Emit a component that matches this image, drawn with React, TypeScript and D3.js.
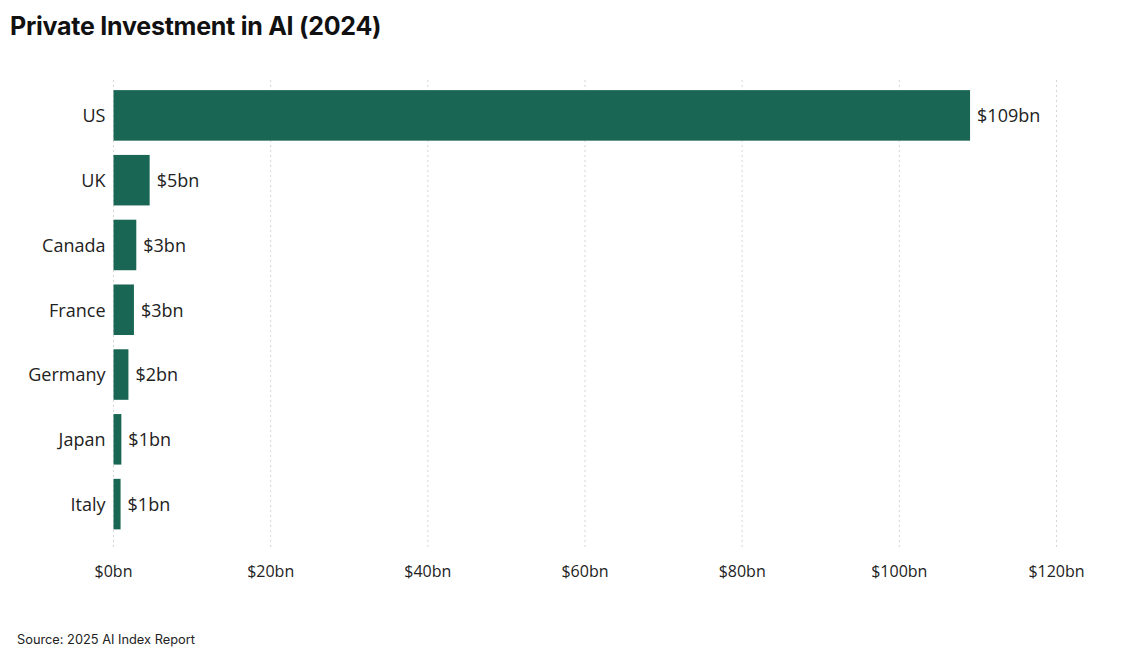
import React from "react";
import * as d3 from "d3";

const countries = ["US", "UK", "Canada", "France", "Germany", "Japan", "Italy"];
const investment = [109, 4.6, 2.9, 2.6, 1.9, 1.0, 0.9];
const valueLabels = ["$109bn", "$5bn", "$3bn", "$3bn", "$2bn", "$1bn", "$1bn"];
const xTicks = [0, 20, 40, 60, 80, 100, 120];

const W = 1148;
const H = 654;
const labelFont = "'Open Sans', 'Noto Sans', sans-serif";
const titleFont = "Inter, 'Liberation Sans', sans-serif";

export default function App() {
  const x = d3.scaleLinear().domain([0, 120]).range([113.5, 1056.5]);
  const y = d3
    .scaleBand<string>()
    .domain(countries)
    .range([83, 536.5])
    .paddingInner(0.22)
    .paddingOuter(0.11);

  return (
    <svg
      width={W}
      height={H}
      style={{ position: "absolute", left: 0, top: 0, background: "#fff" }}
    >
      <text
        x={10}
        y={35}
        fontFamily={titleFont}
        fontWeight={700}
        fontSize={25}
        letterSpacing={-0.25}
        fill="#111"
      >
        Private Investment in AI (2024)
      </text>
      {xTicks.map((t) => (
        <g key={t}>
          <line
            x1={x(t)}
            x2={x(t)}
            y1={80}
            y2={548}
            stroke="#d6d6d6"
            strokeWidth={1}
            strokeDasharray="2,3"
          />
          <text
            x={x(t)}
            y={577}
            textAnchor="middle"
            fontFamily={labelFont}
            fontSize={16}
            fill="#222"
          >
            {`$${t}bn`}
          </text>
        </g>
      ))}
      {countries.map((c, i) => {
        const yy = y(c)!;
        const bw = y.bandwidth();
        return (
          <g key={c}>
            <rect
              x={x(0)}
              y={yy}
              width={x(investment[i]) - x(0)}
              height={bw}
              fill="#1a6654"
            />
            <text
              x={x(0) - 8}
              y={yy + bw / 2}
              dy="0.38em"
              textAnchor="end"
              fontFamily={labelFont}
              fontSize={18}
              fill="#222"
            >
              {c}
            </text>
            <text
              x={x(investment[i]) + 7}
              y={yy + bw / 2}
              dy="0.38em"
              fontFamily={labelFont}
              fontSize={18}
              fill="#222"
            >
              {valueLabels[i]}
            </text>
          </g>
        );
      })}
      <text
        x={17}
        y={644}
        fontFamily={titleFont}
        fontSize={12.8}
        fill="#222"
      >
        Source: 2025 AI Index Report
      </text>
    </svg>
  );
}
